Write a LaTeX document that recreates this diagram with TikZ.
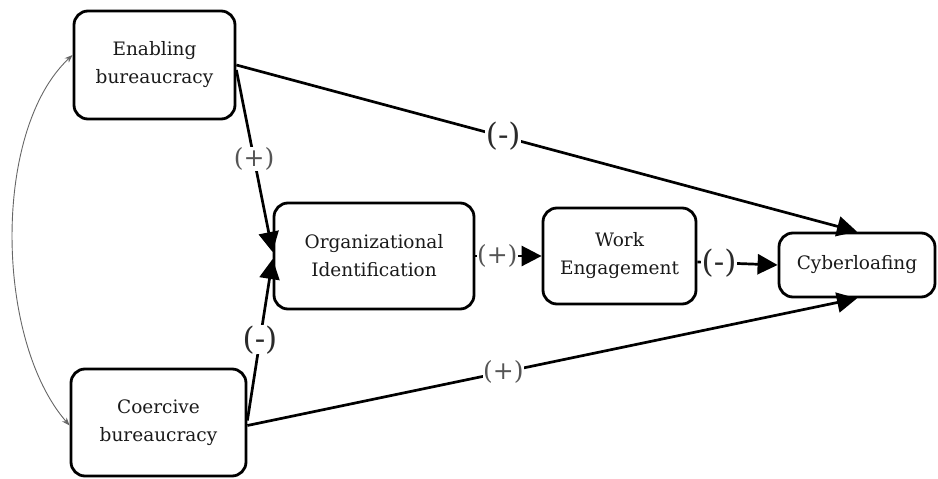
\documentclass[tikz,border=0pt]{standalone}
\usepackage{fontspec}
\setmainfont{DejaVu Serif}
\usetikzlibrary{arrows.meta,calc}
\definecolor{txt}{HTML}{1A1A1A}
\definecolor{lblplus}{HTML}{555555}
\definecolor{lblminus}{HTML}{2A2A2A}
\begin{document}
\begin{tikzpicture}[x=1pt,y=-1pt,
  box/.style={draw=black,line width=2.8pt,rounded corners=14pt,fill=white,align=center,
    text=txt,font=\fontsize{18.5}{28}\selectfont,inner sep=0pt},
  conn/.style={draw=black,line width=2.7pt,-{Triangle[length=20pt,width=20pt]}},
  plus/.style={fill=white,inner sep=0.5pt,text=lblplus,font=\fontsize{25}{25}\selectfont},
  minus/.style={fill=white,inner sep=0.5pt,text=lblminus,font=\fontsize{31}{31}\selectfont},
  corr/.style={draw=gray!80!black,line width=0.9pt,{Stealth[length=8pt,width=6pt]}-{Stealth[length=8pt,width=6pt]}}
]
\useasboundingbox (0,0) rectangle (938,479);
\node[box,minimum width=161pt,minimum height=108pt] (enab) at (154.5,65) {Enabling\\bureaucracy};
\node[box,minimum width=200pt,minimum height=106pt] (org) at (374,256) {Organizational\\Identification};
\node[box,minimum width=153pt,minimum height=96pt] (work) at (619.5,256) {Work\\Engagement};
\node[box,minimum width=156pt,minimum height=64pt] (cyber) at (857,265) {Cyberloafing};
\node[box,minimum width=175pt,minimum height=107pt] (coer) at (158.5,422.5) {Coercive\\bureaucracy};

\draw[conn] ([yshift=-5pt]enab.east) -- node[pos=0.49,plus] (l1) {(+)} ([yshift=4pt]org.west);
\draw[conn] ([yshift=2pt]coer.east) -- node[pos=0.5,minus] (l2) {(-)} ([yshift=-3pt]org.west);
\draw[conn] (enab.east) -- node[pos=0.43,minus] (l3) {(-)} (cyber.north);
\draw[conn] ([yshift=-3pt]coer.east) -- node[pos=0.42,plus] (l4) {(+)} (cyber.south);
\draw[conn] (org.east) -- node[pos=0.33,plus] (l5) {(+)} (work.west);
\draw[conn] ([yshift=-6pt]work.east) -- node[pos=0.27,minus] (l6) {(-)} (cyber.west);

\draw[corr] ([yshift=10pt]enab.west) .. controls (-8,130) and (-5,340) .. ([yshift=-3pt]coer.west);
\end{tikzpicture}
\end{document}
